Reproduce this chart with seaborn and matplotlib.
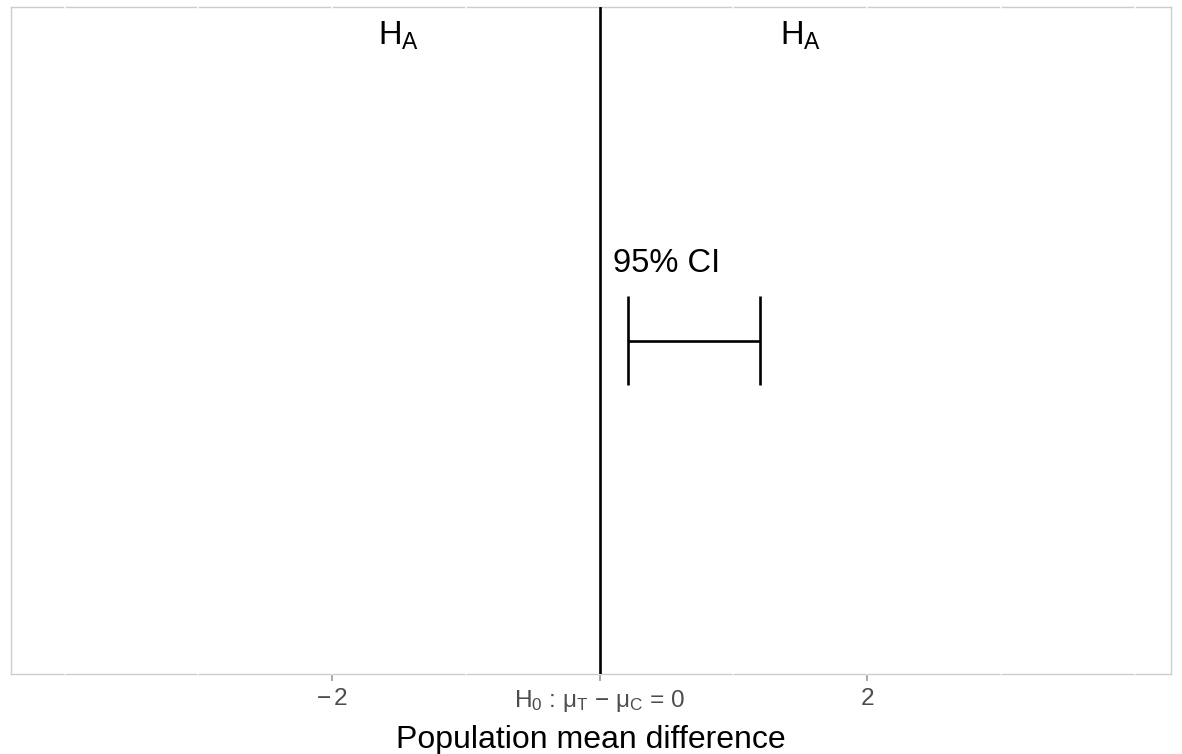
import matplotlib
matplotlib.use("Agg")
import matplotlib.pyplot as plt
import seaborn as sns
import numpy as np

# values
tick_pos = [-2, 0, 2]
tick_labels = [r"$-\,$2", r"H$_0$ : μ$_\mathregular{T}$ $-$ μ$_\mathregular{C}$ = 0", "2"]
grid_pos = [-4, -3, -2, -1, 0, 1, 2, 3, 4]
ci_low, ci_high = 0.21, 1.20
ci_y = 0.5
ci_label_x = 0.5
null_value = 0
ha_x = [-1.5, 1.5]
ha_y = 0.943

sns.set_theme(style="white")
plt.rcParams["font.family"] = ["Liberation Sans", "DejaVu Sans"]
plt.rcParams["mathtext.fontset"] = "custom"
plt.rcParams["mathtext.rm"] = "Liberation Sans"
plt.rcParams["mathtext.it"] = "Liberation Sans:italic"

fig = plt.figure(figsize=(11.82, 7.54), dpi=100)
ax = fig.add_axes([11 / 1182, 80 / 754, 1160 / 1182, 667 / 754])
ax.set_xlim(-4.4, 4.27)
ax.set_ylim(0, 1)

for s in ax.spines.values():
    s.set_color("#CCCCCC")
    s.set_linewidth(1.0)

# white grid lines, ggplot style (cut through the border)
for g in grid_pos:
    ax.axvline(g, color="white", lw=1.2, zorder=3, clip_on=False)

ax.axvline(null_value, color="black", lw=1.9, zorder=4)

# confidence interval with caps
ax.hlines(ci_y, ci_low, ci_high, color="black", lw=1.9, zorder=4)
ax.vlines([ci_low, ci_high], ci_y - 0.066, ci_y + 0.066, color="black", lw=1.9, zorder=4)
ax.text(ci_label_x, 0.603, "95% CI", ha="center", va="baseline", fontsize=23.5, color="black")

for x in ha_x:
    ax.text(x, ha_y, "H$_\\mathregular{A}$", ha="center", va="baseline", fontsize=23.5, color="black")

ax.set_xticks(tick_pos)
ax.set_xticklabels(tick_labels)
ax.tick_params(axis="x", length=5, width=1.2, color="#999999", labelcolor="#4D4D4D",
               labelsize=17.6, pad=5, bottom=True)
ax.set_yticks([])
ax.set_xlabel("Population mean difference", fontsize=23, color="black", labelpad=8)

fig.savefig("out.png", dpi=100)
